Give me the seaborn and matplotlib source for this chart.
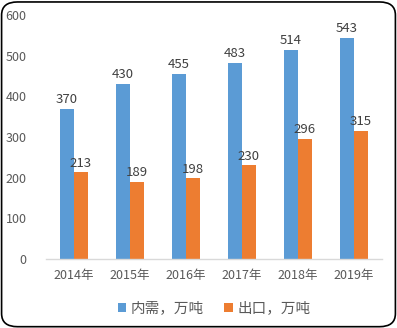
import matplotlib
matplotlib.use("Agg")
import matplotlib.pyplot as plt
import seaborn as sns
import pandas as pd
from matplotlib.patches import FancyBboxPatch

years = ["2014年", "2015年", "2016年", "2017年", "2018年", "2019年"]
domestic = [370, 430, 455, 483, 514, 543]
export = [213, 189, 198, 230, 296, 315]
series_names = ["内需，万吨", "出口，万吨"]
colors = ["#5B9BD5", "#ED7D31"]

df = pd.DataFrame({
    "year": years * 2,
    "value": domestic + export,
    "series": [series_names[0]] * len(years) + [series_names[1]] * len(years),
})

sns.set_theme(style="white")
plt.rcParams["font.family"] = ["Noto Sans CJK SC", "DejaVu Sans"]

fig = plt.figure(figsize=(3.97, 3.28), dpi=100)
ax = fig.add_axes([46 / 397, 1 - 259 / 328, 336 / 397, (259 - 15) / 328])

sns.barplot(data=df, x="year", y="value", hue="series", palette=colors,
            width=0.49, saturation=1, linewidth=0, edgecolor="none",
            ax=ax, legend=True)

ax.set_ylim(0, 600)
ax.set_yticks(range(0, 601, 100))
ax.set_xlim(-0.5, 5.5)
ax.set_xlabel("")
ax.set_ylabel("")
for s in ["top", "right", "left"]:
    ax.spines[s].set_visible(False)
ax.spines["bottom"].set_color("#D9D9D9")
ax.spines["bottom"].set_linewidth(1)
ax.tick_params(axis="both", length=0, colors="#595959", labelsize=9)
ax.tick_params(axis="y", pad=14)
ax.tick_params(axis="x", pad=7)

for cont in ax.containers:
    ax.bar_label(cont, fmt="%d", padding=2, fontsize=9.5, color="#404040")

leg = ax.legend(loc="upper center", bbox_to_anchor=(0.5, -0.12), ncol=2,
                frameon=False, fontsize=10.5, handlelength=0.6, handleheight=0.6,
                handletextpad=0.3, columnspacing=1.4, labelcolor="#595959")

border = FancyBboxPatch((0.004, 0.004), 0.992, 0.990,
                        boxstyle="round,pad=0,rounding_size=0.04",
                        transform=fig.transFigure, fill=False,
                        edgecolor="black", linewidth=1.2)
fig.patches.append(border)

fig.savefig("out.png", dpi=100)
